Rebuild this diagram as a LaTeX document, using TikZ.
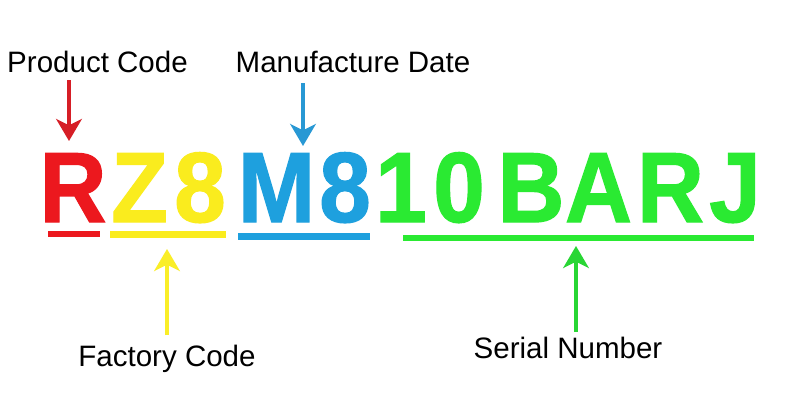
\documentclass[tikz,border=0pt]{standalone}
\usepackage{fontspec}
\setmainfont{Liberation Sans}
\newfontfamily\codefont[FakeStretch=0.93, FakeBold=1.2]{Liberation Sans}
\usetikzlibrary{arrows.meta}
\definecolor{cred}{RGB}{236,24,30}
\definecolor{cyel}{RGB}{250,236,30}
\definecolor{cblu}{RGB}{30,160,222}
\definecolor{cgrn}{RGB}{42,234,50}
\definecolor{ared}{RGB}{214,30,38}
\definecolor{ayel}{RGB}{250,238,40}
\definecolor{ablu}{RGB}{40,152,212}
\definecolor{agrn}{RGB}{40,214,52}
\tikzset{
  lbl/.style={font=\fontsize{21pt}{25pt}\selectfont, text=black, inner sep=0pt, anchor=base},
  big/.style={font=\codefont\bfseries\fontsize{71pt}{80pt}\selectfont, inner sep=0pt, anchor=base},
  bar/.style={line width=6.5*0.25mm},
  pointer/.style={line width=1mm, -{Stealth[length=5.5mm, width=6.4mm, inset=1.6mm]}}
}
\newcommand{\bigletter}[4]{%
  \node[big, text=#3] (#1) at (#2,222) {#4};}
\begin{document}
\begin{tikzpicture}[x=0.25mm, y=-0.25mm]
\useasboundingbox (0,0) rectangle (800,400);
\fill[white] (0,0) rectangle (800,400);
% labels
\node[lbl] (pc) at (97.5,72) {Product Code};
\node[lbl] (md) at (353,72) {Manufacture Date};
\node[lbl] (fc) at (167,366) {Factory Code};
\node[lbl] (sn) at (568,358) {Serial Number};
% big code letters
\bigletter{l1}{73}{cred}{R}
\bigletter{l2}{139.5}{cyel}{Z}
\bigletter{l3}{200}{cyel}{8}
\bigletter{l4}{276.5}{cblu}{M}
\bigletter{l5}{345}{cblu}{8}
\bigletter{l6}{401}{cgrn}{1}
\bigletter{l7}{459}{cgrn}{0}
\bigletter{l8}{531}{cgrn}{B}
\bigletter{l9}{598.5}{cgrn}{A}
\bigletter{l10}{670.5}{cgrn}{R}
\bigletter{l11}{735}{cgrn}{J}
% underline bars
\coordinate (b1a) at (48,234);  \coordinate (b1b) at (100,234);
\coordinate (b2a) at (110,234.5); \coordinate (b2b) at (226,234.5);
\coordinate (b3a) at (238,236.5); \coordinate (b3b) at (370,236.5);
\coordinate (b4a) at (403,238); \coordinate (b4b) at (754,238);
\draw[bar, cred] (b1a) -- (b1b);
\draw[bar, cyel] (b2a) -- (b2b);
\draw[bar, cblu] (b3a) -- (b3b);
\draw[bar, cgrn] (b4a) -- (b4b);
% arrows
\coordinate (p1s) at (69,80);  \coordinate (p1e) at (69,141);
\coordinate (p2s) at (303,83); \coordinate (p2e) at (303,146);
\coordinate (p3s) at (167,335); \coordinate (p3e) at (167,249);
\coordinate (p4s) at (576,332); \coordinate (p4e) at (576,246);
\draw[pointer, ared] (p1s) -- (p1e);
\draw[pointer, ablu] (p2s) -- (p2e);
\draw[pointer, ayel] (p3s) -- (p3e);
\draw[pointer, agrn] (p4s) -- (p4e);
\end{tikzpicture}
\end{document}
